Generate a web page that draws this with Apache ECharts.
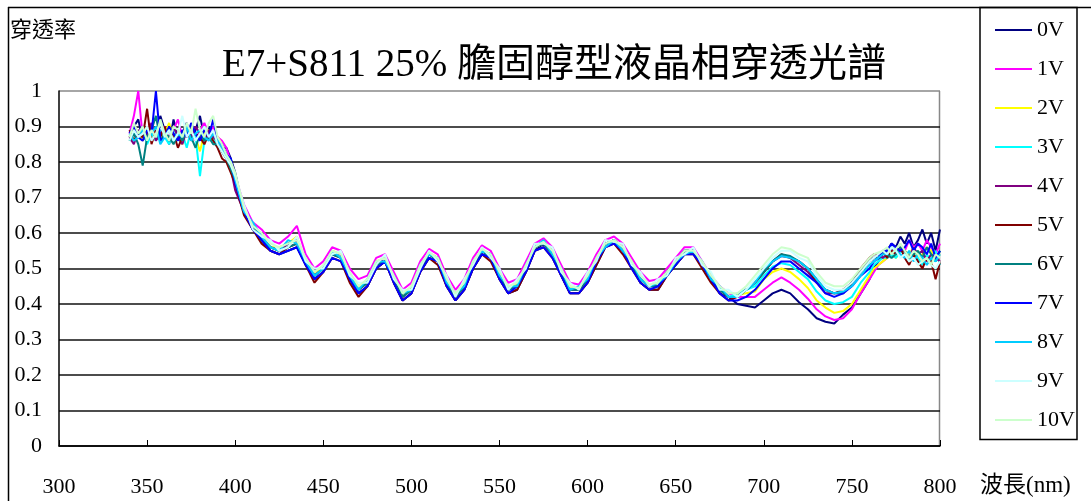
<!DOCTYPE html>
<html>
<head>
<meta charset="utf-8">
<script src="https://cdn.jsdelivr.net/npm/echarts@6/dist/echarts.min.js"></script>
<style>
  html, body { margin: 0; padding: 0; background: #fff; }
  #chart { width: 1091px; height: 501px; }
</style>
</head>
<body>
<div id="chart"></div>
<script>
// 波長 (nm): finer steps where the curves are noisy
const wavelengths = [
  340, 342.5, 345, 347.5, 350, 352.5, 355, 357.5, 360, 362.5, 365, 367.5,
  370, 372.5, 375, 377.5, 380, 382.5, 385, 387.5, 390, 392.5, 395, 397.5,
  400, 405, 410, 415, 420, 425, 430, 435,
  440, 445, 450, 455, 460, 465, 470, 475, 480, 485,
  490, 495, 500, 505, 510, 515, 520, 525, 530, 535,
  540, 545, 550, 555, 560, 565, 570, 575, 580, 585,
  590, 595, 600, 605, 610, 615, 620, 625, 630, 635,
  640, 645, 650, 655, 660, 665, 670, 675, 680, 685,
  690, 695, 700, 705, 710, 715, 720, 725, 730, 735,
  740, 745, 750, 755,
  760, 762.5, 765, 767.5, 770, 772.5, 775, 777.5, 780, 782.5,
  785, 787.5, 790, 792.5, 795, 797.5, 800
]

const xTicks = [300, 350, 400, 450, 500, 550, 600, 650, 700, 750, 800]
const yTicks = [0, 0.1, 0.2, 0.3, 0.4, 0.5, 0.6, 0.7, 0.8, 0.9, 1]

// 穿透率, one array per voltage (340-397.5 / 400-755 / 760-800)
const v0 = [
  .87, .90, .92, .86, .88, .90, .86, .93, .89, .85, .92, .87,
  .88, .91, .86, .89, .93, .87, .90, .86, .86, .84, .84, .81,
  .77, .66, .61, .58, .55, .54, .55, .56,
  .51, .47, .49, .54, .53, .47, .43, .45, .50, .52,
  .46, .41, .43, .49, .53, .52, .45, .41, .44, .50,
  .54, .53, .47, .43, .44, .49, .55, .57, .54, .48,
  .43, .43, .46, .51, .56, .58, .55, .51, .46, .44,
  .44, .48, .51, .54, .55, .51, .47, .43, .42, .40,
  .395, .39, .41, .43, .44, .43, .405, .385, .36, .35,
  .345, .37, .39, .43,
  .47, .50, .52, .54, .55, .57, .56, .59, .57, .60,
  .56, .58, .61, .57, .60, .55, .61
]
const v1 = [
  .88, .93, 1.0, .87, .89, .91, .87, .88, .90, .86, .89, .92,
  .87, .90, .88, .86, .89, .91, .88, .90, .87, .86, .84, .80,
  .76, .68, .63, .61, .58, .57, .59, .62,
  .54, .50, .52, .56, .55, .50, .47, .48, .53, .54,
  .49, .44, .46, .52, .555, .54, .48, .44, .47, .53,
  .565, .55, .50, .46, .47, .52, .57, .585, .56, .51,
  .46, .455, .49, .54, .58, .59, .57, .53, .49, .465,
  .47, .50, .53, .56, .56, .52, .48, .45, .43, .42,
  .42, .42, .44, .46, .475, .46, .44, .415, .385, .365,
  .355, .36, .385, .43,
  .47, .49, .51, .52, .53, .55, .54, .56, .55, .58,
  .56, .57, .55, .58, .56, .54, .57
]
const v2 = [
  .87, .89, .88, .86, .90, .87, .89, .86, .88, .91, .87, .88,
  .85, .89, .90, .87, .83, .88, .89, .86, .87, .85, .82, .80,
  .75, .66, .62, .59, .56, .56, .57, .59,
  .52, .49, .50, .55, .54, .48, .45, .46, .52, .53,
  .47, .42, .45, .50, .545, .53, .46, .43, .45, .52,
  .55, .54, .48, .44, .46, .50, .56, .57, .55, .49,
  .45, .44, .48, .52, .57, .58, .56, .52, .47, .45,
  .46, .49, .52, .55, .55, .51, .47, .44, .42, .425,
  .43, .435, .47, .49, .50, .49, .47, .445, .41, .39,
  .375, .38, .40, .44,
  .48, .50, .51, .52, .53, .54, .53, .55, .55, .54,
  .56, .53, .54, .56, .55, .53, .54
]
const v3 = [
  .86, .88, .87, .90, .85, .88, .86, .89, .87, .85, .90, .86,
  .88, .84, .89, .87, .76, .86, .88, .87, .85, .84, .82, .79,
  .74, .66, .61, .58, .56, .55, .57, .58,
  .52, .48, .50, .54, .54, .48, .44, .46, .51, .53,
  .47, .42, .44, .50, .54, .53, .46, .42, .45, .51,
  .55, .54, .48, .44, .45, .50, .56, .57, .55, .49,
  .44, .44, .47, .52, .57, .58, .56, .51, .47, .45,
  .45, .49, .52, .55, .55, .51, .47, .44, .42, .43,
  .44, .45, .48, .505, .515, .51, .49, .47, .435, .41,
  .40, .405, .42, .46,
  .49, .51, .52, .53, .53, .54, .53, .55, .54, .52,
  .54, .53, .51, .54, .52, .55, .51
]
const v4 = [
  .87, .85, .89, .88, .87, .91, .86, .88, .89, .86, .90, .87,
  .85, .89, .87, .90, .88, .86, .89, .87, .86, .83, .81, .78,
  .72, .66, .62, .59, .56, .55, .57, .58,
  .52, .48, .50, .54, .54, .47, .44, .46, .51, .53,
  .47, .42, .44, .50, .54, .53, .46, .42, .45, .51,
  .55, .54, .48, .44, .45, .50, .56, .57, .55, .49,
  .44, .44, .47, .52, .57, .58, .56, .51, .47, .45,
  .45, .49, .52, .55, .55, .51, .47, .44, .42, .42,
  .44, .46, .49, .52, .535, .53, .51, .49, .46, .43,
  .43, .43, .46, .49,
  .52, .53, .54, .53, .54, .56, .54, .55, .55, .53,
  .56, .54, .55, .52, .54, .53, .52
]
const v5 = [
  .89, .86, .88, .87, .95, .85, .89, .87, .90, .86, .88, .84,
  .87, .89, .86, .88, .87, .85, .88, .86, .84, .81, .80, .77,
  .74, .65, .61, .57, .55, .54, .56, .57,
  .51, .46, .49, .53, .52, .46, .42, .45, .50, .52,
  .46, .41, .43, .49, .53, .51, .45, .41, .44, .50,
  .54, .52, .47, .43, .44, .49, .55, .56, .53, .48,
  .43, .43, .46, .51, .56, .57, .54, .50, .46, .44,
  .44, .48, .51, .54, .54, .50, .46, .43, .41, .42,
  .44, .46, .49, .52, .54, .53, .52, .50, .46, .44,
  .43, .44, .46, .50,
  .53, .54, .54, .55, .53, .55, .54, .56, .53, .51,
  .54, .52, .50, .53, .52, .47, .52
]
const v6 = [
  .86, .88, .85, .79, .87, .89, .93, .86, .88, .87, .85, .88,
  .86, .89, .87, .84, .88, .86, .87, .85, .85, .83, .81, .78,
  .75, .66, .62, .58, .56, .55, .56, .57,
  .52, .48, .50, .54, .53, .48, .44, .46, .51, .52,
  .47, .42, .44, .50, .54, .52, .46, .42, .45, .51,
  .55, .53, .48, .44, .45, .50, .56, .57, .54, .49,
  .44, .44, .47, .52, .57, .58, .55, .51, .47, .45,
  .45, .49, .51, .55, .55, .51, .47, .44, .42, .42,
  .44, .46, .49, .52, .54, .535, .52, .50, .47, .44,
  .43, .43, .46, .49,
  .52, .53, .53, .55, .54, .53, .54, .56, .55, .53,
  .54, .55, .53, .56, .54, .52, .55
]
const v7 = [
  .88, .90, .87, .86, .89, .88, 1.0, .86, .87, .90, .88, .86,
  .89, .87, .91, .88, .86, .89, .87, .92, .86, .85, .82, .81,
  .74, .66, .61, .58, .55, .54, .55, .56,
  .51, .47, .49, .53, .52, .47, .43, .45, .50, .52,
  .46, .41, .43, .49, .53, .52, .45, .41, .44, .50,
  .54, .53, .47, .43, .45, .49, .55, .56, .53, .48,
  .43, .43, .46, .52, .56, .57, .55, .50, .46, .44,
  .45, .48, .51, .54, .54, .51, .47, .43, .41, .41,
  .42, .44, .47, .50, .52, .52, .50, .48, .46, .43,
  .42, .43, .45, .48,
  .50, .52, .53, .55, .55, .57, .56, .55, .56, .58,
  .55, .57, .56, .54, .57, .53, .55
]
const v8 = [
  .88, .86, .87, .89, .86, .88, .90, .85, .87, .89, .86, .88,
  .87, .90, .86, .88, .89, .87, .86, .88, .86, .84, .82, .80,
  .75, .66, .63, .59, .56, .55, .58, .57,
  .52, .48, .50, .55, .53, .48, .44, .47, .52, .52,
  .48, .43, .44, .51, .54, .53, .46, .43, .45, .52,
  .55, .54, .48, .45, .45, .51, .56, .58, .54, .50,
  .44, .45, .47, .53, .56, .58, .55, .52, .47, .45,
  .46, .48, .52, .54, .55, .52, .47, .45, .42, .42,
  .44, .46, .50, .52, .535, .53, .52, .50, .47, .44,
  .43, .435, .45, .48,
  .51, .52, .53, .54, .54, .56, .55, .54, .53, .55,
  .52, .54, .53, .51, .53, .52, .54
]
const v9 = [
  .86, .89, .87, .88, .90, .86, .88, .91, .87, .89, .86, .88,
  .93, .87, .89, .86, .88, .90, .87, .89, .85, .83, .81, .79,
  .76, .68, .61, .59, .58, .55, .56, .59,
  .52, .50, .50, .54, .55, .48, .46, .46, .51, .54,
  .47, .44, .44, .50, .55, .52, .48, .42, .47, .51,
  .56, .53, .50, .44, .47, .50, .57, .57, .56, .49,
  .46, .44, .49, .52, .58, .575, .57, .51, .49, .45,
  .47, .48, .53, .54, .56, .51, .49, .44, .44, .42,
  .44, .47, .50, .53, .55, .55, .53, .52, .48, .45,
  .44, .44, .46, .49,
  .52, .53, .54, .55, .54, .56, .55, .53, .54, .52,
  .53, .51, .52, .53, .51, .50, .52
]
const v10 = [
  .87, .91, .88, .90, .86, .89, .87, .92, .88, .86, .90, .89,
  .87, .91, .88, .95, .89, .87, .91, .93, .87, .85, .82, .80,
  .77, .67, .62, .60, .57, .56, .57, .58,
  .53, .49, .51, .55, .54, .49, .45, .47, .52, .53,
  .48, .43, .45, .51, .545, .53, .47, .43, .46, .52,
  .555, .54, .49, .45, .46, .51, .56, .575, .55, .50,
  .45, .445, .48, .53, .57, .58, .56, .52, .48, .455,
  .46, .49, .52, .55, .55, .52, .48, .45, .43, .43,
  .45, .48, .51, .54, .56, .555, .54, .53, .49, .46,
  .45, .45, .47, .50,
  .53, .54, .545, .55, .56, .54, .555, .57, .55, .53,
  .55, .54, .52, .53, .51, .54, .53
]

const seriesNames = ['0V', '1V', '2V', '3V', '4V', '5V', '6V', '7V', '8V', '9V', '10V']
const seriesValues = [v0, v1, v2, v3, v4, v5, v6, v7, v8, v9, v10]
const seriesColors = ['#000080', '#FF00FF', '#FFFF00', '#00FFFF', '#800080', '#800000',
  '#008080', '#0000FF', '#00CCFF', '#CCFFFF', '#CCFFCC']

const serif = "'Liberation Serif', 'Times New Roman', 'Noto Sans CJK TC', serif"

let myChart = echarts.init(document.getElementById('chart'))

const series = seriesNames.map((name, i) => ({
  name: name,
  type: 'line',
  symbol: 'none',
  data: wavelengths.map((w, j) => [w, seriesValues[i][j]]),
  lineStyle: { width: 2, color: seriesColors[i] },
  itemStyle: { color: seriesColors[i] },
  animation: false
}))

const option = {
  backgroundColor: '#fff',
  animation: false,
  title: {
    text: 'E7+S811 25% 膽固醇型液晶相穿透光譜',
    left: 217,
    top: 41,
    textStyle: { fontFamily: serif, fontSize: 39, fontWeight: 'normal', color: '#000' }
  },
  grid: { left: 59, right: 151, top: 91, bottom: 55 },
  legend: {
    orient: 'vertical',
    left: 990,
    top: 14,
    icon: 'rect',
    itemWidth: 37,
    itemHeight: 2,
    itemGap: 17,
    textStyle: { fontFamily: serif, fontSize: 22, color: '#000', lineHeight: 22 },
    data: seriesNames
  },
  xAxis: {
    type: 'value',
    min: xTicks[0],
    max: xTicks[xTicks.length - 1],
    interval: 50,
    axisLine: { lineStyle: { color: '#000', width: 1.5 } },
    axisTick: { inside: true, length: 6, lineStyle: { color: '#000' } },
    axisLabel: { margin: 30, fontFamily: serif, fontSize: 22, color: '#000' },
    splitLine: { show: false }
  },
  yAxis: {
    type: 'value',
    min: yTicks[0],
    max: yTicks[yTicks.length - 1],
    interval: 0.1,
    axisLine: { show: true, lineStyle: { color: '#000', width: 1.5 } },
    axisTick: { show: false },
    axisLabel: { margin: 17, fontFamily: serif, fontSize: 22, color: '#000' },
    splitLine: {
      lineStyle: {
        color: ['#000', '#111', '#111', '#111', '#111', '#111', '#111', '#111', '#111', '#111', '#888'],
        width: 1.5
      }
    }
  },
  graphic: [
    // 外框
    { type: 'line', shape: { x1: 8, y1: 7.5, x2: 1091, y2: 7.5 }, style: { stroke: '#000', lineWidth: 1.5 } },
    { type: 'line', shape: { x1: 8.5, y1: 7, x2: 8.5, y2: 501 }, style: { stroke: '#000', lineWidth: 1.5 } },
    // 圖面右邊界
    { type: 'line', shape: { x1: 939.5, y1: 91, x2: 939.5, y2: 446 }, style: { stroke: '#888', lineWidth: 1.5 } },
    // 圖例框
    { type: 'rect', shape: { x: 980, y: 7.5, width: 97, height: 432 }, style: { fill: 'none', stroke: '#000', lineWidth: 1.5 }, z: 10 },
    { type: 'text', left: 10, top: 18, style: { text: '穿透率', font: "22px 'Noto Sans CJK TC'", fill: '#000' } },
    { type: 'text', left: 980, top: 474, style: { text: '波長(nm)', font: "23px 'Liberation Serif', 'Noto Sans CJK TC'", fill: '#000' } }
  ],
  series: series
}

myChart.setOption(option)
</script>
</body>
</html>
